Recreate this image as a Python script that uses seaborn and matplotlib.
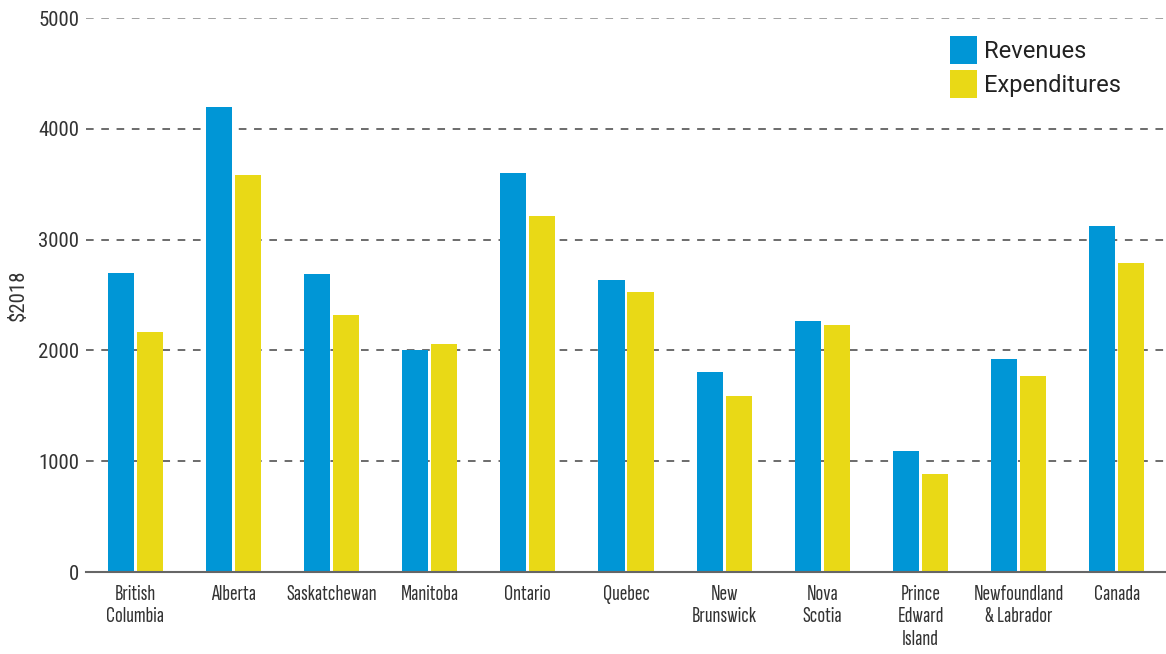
import matplotlib
matplotlib.use("Agg")
import matplotlib.pyplot as plt
import seaborn as sns
import pandas as pd
from matplotlib.patches import Patch

categories = ["British\nColumbia", "Alberta", "Saskatchewan", "Manitoba", "Ontario",
              "Quebec", "New\nBrunswick", "Nova\nScotia", "Prince\nEdward\nIsland",
              "Newfoundland\n& Labrador", "Canada"]
revenues = [2700, 4200, 2690, 2005, 3600, 2635, 1805, 2265, 1092, 1922, 3123]
expenditures = [2167, 3585, 2320, 2058, 3213, 2527, 1588, 2229, 884, 1769, 2789]
series = ["Revenues", "Expenditures"]
colors = ["#0096d6", "#e9d916"]
yticks = [0, 1000, 2000, 3000, 4000, 5000]

narrow = ["Roboto Condensed", "DejaVu Sans"]
xnarrow = ["Sofia Sans Extra Condensed", "Roboto Condensed", "DejaVu Sans"]

df = pd.DataFrame({
    "cat": categories * 2,
    "val": revenues + expenditures,
    "series": [series[0]] * len(categories) + [series[1]] * len(categories),
})

sns.set_theme(style="white")
plt.rcParams["font.family"] = ["Roboto", "DejaVu Sans"]

fig = plt.figure(figsize=(11.66, 6.54), dpi=100)
ax = fig.add_axes([86/1166, 1 - 572/654, 1 - 86/1166, (572 - 18)/654])

sns.barplot(data=df, x="cat", y="val", hue="series", palette=colors,
            width=0.59, gap=0.1, ax=ax, legend=False, saturation=1,
            linewidth=0, edgecolor="none")

ax.set_xlim(-0.5, len(categories) - 0.5)
ax.set_ylim(0, 5000)
ax.set_yticks(yticks)
ax.set_yticklabels([str(v) for v in yticks], fontfamily=narrow, fontsize=15, color="#333333")
ax.set_xticks(range(len(categories)))
ax.set_xticklabels(categories, fontfamily=xnarrow, fontsize=16.5, color="#333333",
                   linespacing=1.25)
ax.tick_params(axis="both", length=0)
ax.tick_params(axis="x", pad=9)
ax.tick_params(axis="y", pad=5)
ax.set_xlabel("")
ax.set_ylabel("$2018", fontfamily=narrow, fontsize=15, color="#333333", labelpad=7)

for y in yticks[1:]:
    ax.axhline(y, color="#444444" if y < 5000 else "#888888", lw=1.1,
               ls=(0, (5, 5)), zorder=0)
ax.set_axisbelow(True)

for s in ["top", "right", "left"]:
    ax.spines[s].set_visible(False)
ax.spines["bottom"].set_color("#666666")
ax.spines["bottom"].set_linewidth(1.5)

handles = [Patch(facecolor=c, edgecolor="none", label=s) for s, c in zip(series, colors)]
leg = fig.legend(handles=handles, loc="upper left",
                 bbox_to_anchor=(950/1166, 1 - 38/654), bbox_transform=fig.transFigure,
                 frameon=False, fontsize=17, handlelength=1.15, handleheight=1.15,
                 handletextpad=0.3, labelspacing=0.4, borderpad=0, borderaxespad=0,
                 labelcolor="#222222")
for p in leg.get_patches():
    p.set_height(p.get_height() * 1.2)
    p.set_y(p.get_y() - p.get_height() * 0.1)

fig.savefig("out.png", dpi=100)
